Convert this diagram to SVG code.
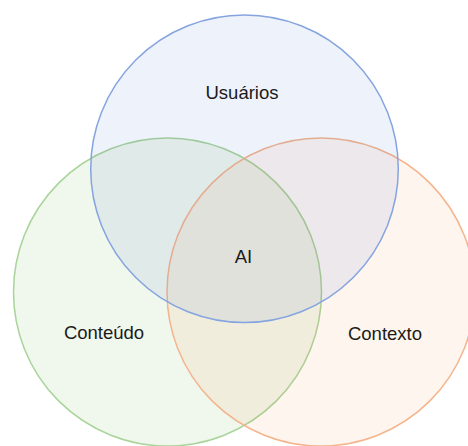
<svg xmlns="http://www.w3.org/2000/svg" width="468" height="446" viewBox="0 0 468 446">
<style>
.c{stroke-width:1.5}
.t{font-family:"Liberation Sans",Arial,sans-serif;font-size:18.5px;fill:#1a1a1a;text-anchor:middle}
</style>
<rect width="468" height="446" fill="#ffffff"/>
<g id="conteudo">
<circle class="c" cx="167.5" cy="292" r="154" fill="#70ad47" fill-opacity="0.1" stroke="#a9d49a"/>
<text class="t" x="104" y="339">Conteúdo</text>
</g>
<g id="contexto">
<circle class="c" cx="321" cy="292" r="154" fill="#ed7d31" fill-opacity="0.08" stroke="#f4b48c"/>
<text class="t" x="385" y="340">Contexto</text>
</g>
<g id="usuarios">
<circle class="c" cx="244.5" cy="168.8" r="153.8" fill="#4472c4" fill-opacity="0.09" stroke="#85a4e0"/>
<text class="t" x="242" y="99">Usuários</text>
</g>
<g id="ai">
<text class="t" x="243.5" y="263">AI</text>
</g>
</svg>
